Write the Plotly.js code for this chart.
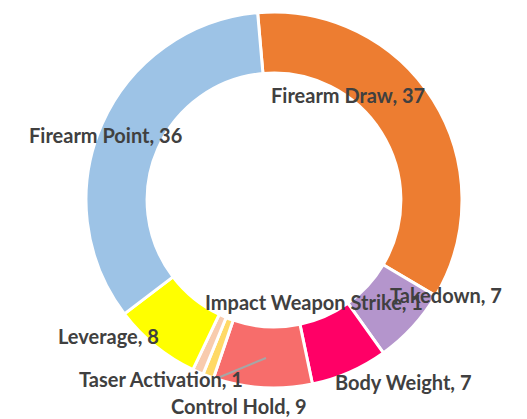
<!DOCTYPE html>
<html>
<head>
<meta charset="utf-8">
<script src="https://cdn.plot.ly/plotly-3.0.1.min.js"></script>
<style>
  html, body { margin: 0; padding: 0; background: #fff; }
  #chart { width: 527px; height: 419px; }
</style>
</head>
<body>
<div id="chart"></div>
<script>
// slices, clockwise from 12 o'clock
var labels = ['Firearm Draw', 'Takedown', 'Body Weight', 'Control Hold',
              'Impact Weapon Strike', 'Taser Activation', 'Leverage', 'Firearm Point'];
var values = [37, 7, 7, 9, 1, 1, 8, 36];
var colors = ['#ED7D31', '#B495CC', '#FF0066', '#F76D6B',
              '#FFD966', '#F8CBAD', '#FFFF00', '#9DC3E6'];

// where the data labels sit (pixels in the 527x419 picture)
var labelPos = [[348, 95], [446, 295], [403, 382], [239, 406],
                [314, 302], [161, 379], [108, 336], [105, 135]];

var W = 527, H = 419;

var trace = {
    type: 'pie',
    labels: labels,
    values: values,
    sort: false,
    direction: 'clockwise',
    rotation: -5,
    hole: 0.675,
    textinfo: 'none',
    hoverinfo: 'label+value',
    showlegend: false,
    marker: { colors: colors, line: { color: '#ffffff', width: 3 } },
    domain: { x: [86 / W, 462 / W], y: [(H - 388) / H, (H - 12) / H] }
};

var annotations = labels.map(function (name, i) {
    return {
        xref: 'paper', yref: 'paper',
        x: labelPos[i][0] / W, y: 1 - labelPos[i][1] / H,
        xanchor: 'center', yanchor: 'middle',
        text: '<b>' + name + ', ' + values[i] + '</b>',
        showarrow: false,
        font: { family: 'Lato, "Open Sans", sans-serif', size: 20, color: '#404040' }
    };
});

var layout = {
    width: W,
    height: H,
    margin: { l: 0, r: 0, t: 0, b: 0 },
    paper_bgcolor: '#ffffff',
    annotations: annotations,
    shapes: [{
        type: 'line', xref: 'paper', yref: 'paper',
        x0: 220 / W, y0: 1 - 377 / H, x1: 266 / W, y1: 1 - 358 / H,
        line: { color: '#A6A6A6', width: 2 }
    }]
};

Plotly.newPlot('chart', [trace], layout, { displayModeBar: false, staticPlot: true });
</script>
</body>
</html>
